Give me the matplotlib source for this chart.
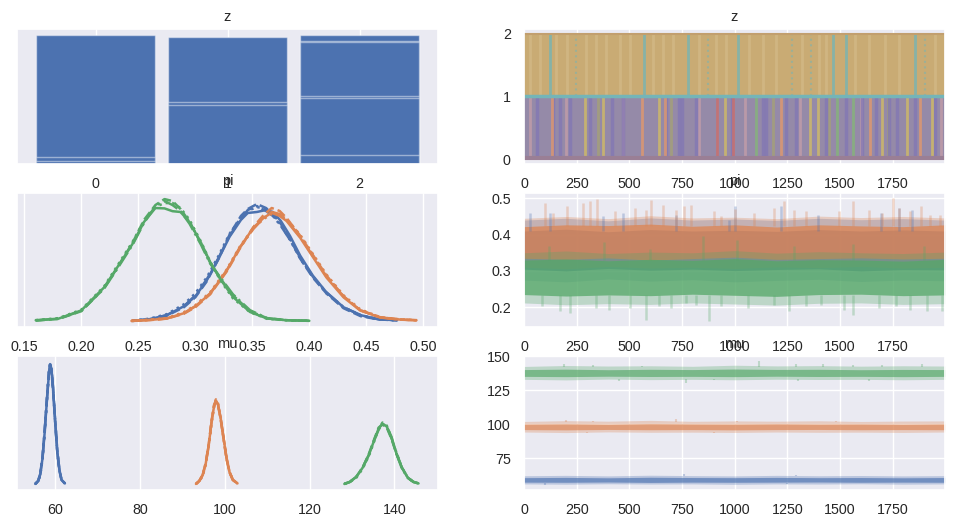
import matplotlib.pyplot as plt
import seaborn as sns

sns.set_theme(style="darkgrid")
plt.rcParams['font.family'] = ['Liberation Sans', 'DejaVu Sans']
plt.rcParams['xtick.labelsize'] = 10.3
plt.rcParams['ytick.labelsize'] = 10.3
plt.rcParams['axes.titlesize'] = 10.5

colors = ["#4C72B0", "#DD8452", "#55A868"]
chain_styles = ["-", "--", ":", "-."]

# ---- z : discrete posterior (bar heights, overlapping per variable) ----
z_cats = [0, 1, 2]
z_bar_heights = [[1.0, 0.055, 0.02],
                 [0.99, 0.485, 0.46],
                 [1.0, 0.96, 0.945, 0.53, 0.51, 0.07]]

# ---- z : trace stripes (draw index) ----
z_upper_teal = [123, 568, 777, 1014, 1466, 1530, 1857]
z_upper_teal_faint = [246, 872, 1274, 1361, 1905]
z_upper_light = [28, 76, 154, 202, 296, 344, 391, 454, 501, 612, 659, 706, 833, 912, 959,
                 1069, 1133, 1196, 1322, 1401, 1432, 1574, 1637, 1716, 1779, 1952]
z_lower_orange = [134, 560, 671, 1220, 1643, 1880]
z_lower_yellow = [290, 377, 639, 955, 1360, 1395, 1700, 1817, 1935]
z_lower_red = [915, 994]
z_lower_green = [1101, 1485, 1564]
z_lower_purple = [60, 139, 170, 218, 312, 420, 470, 675, 738, 750, 817, 990, 1133, 1150,
                  1243, 1290, 1432, 1527, 1605, 1669, 1731, 1770, 1857, 1952]
z_lower_pink = [30, 200, 470, 830, 1050, 1310, 1600, 1980]
z_lower_olive = [350, 700, 1180, 1450, 1730]

# ---- pi : kde per chain (4 chains per component) ----
pi_x = [
    [0.245, 0.26, 0.275, 0.29, 0.30, 0.31, 0.32, 0.33, 0.34, 0.346, 0.354,
     0.362, 0.368, 0.375, 0.383, 0.392, 0.403, 0.415, 0.43, 0.445, 0.46, 0.477],
    [0.244, 0.26, 0.275, 0.29, 0.30, 0.313, 0.3275, 0.339, 0.351, 0.36, 0.367,
     0.374, 0.38, 0.392, 0.4035, 0.415, 0.43, 0.4445, 0.462, 0.4795, 0.494],
    [0.16, 0.18, 0.20, 0.22, 0.23, 0.245, 0.255, 0.265, 0.273, 0.28, 0.287,
     0.295, 0.305, 0.313, 0.322, 0.333, 0.348, 0.363, 0.38, 0.40],
]
pi_kde = [
    [[0.3, 2, 6, 15, 25, 41, 62, 85, 102, 109, 110, 112, 110, 101, 86, 66, 46, 29, 14, 6, 2, 0.8],
     [0.2, 1.8, 5.5, 14, 24, 40, 62, 87, 106, 113, 118, 114, 108, 98, 83, 63, 44, 28, 13, 5, 1.8, 0.7],
     [0.5, 2.5, 7, 17, 28, 44, 65, 88, 104, 111, 115, 113, 107, 97, 82, 63, 45, 28, 14, 6, 2, 0.8],
     [0.3, 2, 6, 15, 26, 42, 63, 86, 103, 112, 116, 111, 106, 96, 82, 64, 45, 29, 14, 6, 2, 0.8]],
    [[0.2, 1.2, 2.6, 8, 15, 27.6, 50.9, 74.2, 94.2, 104.2, 109.2, 106, 101, 84, 64, 44, 24, 10.9, 3.6, 1.6, 0.9],
     [0.2, 1.0, 2.5, 7.5, 14, 27, 50, 73, 95, 107, 114, 111, 104, 86, 66, 46, 25, 11, 4, 1.5, 0.8],
     [0.3, 1.5, 3, 9, 16, 29, 52, 75, 94, 103, 108, 107, 103, 87, 67, 47, 26, 12, 4, 1.8, 1],
     [0.2, 1.2, 2.7, 8, 15, 28, 51, 74, 93, 104, 110, 108, 102, 85, 65, 45, 25, 11, 3.8, 1.6, 0.9]],
    [[0.9, 2.5, 10.8, 34, 51.5, 78, 100, 114, 113.6, 110.8, 110, 99.7, 79, 59.6, 42.2, 24.4, 9.2, 2.6, 0.9, 0.3],
     [0.6, 2.2, 10, 33, 51, 79, 102, 117, 123, 121, 113, 100, 78, 59, 43, 26, 10, 3, 0.9, 0.3],
     [1.0, 3.0, 11.5, 35, 53, 80, 101, 115, 119, 119, 114, 102, 80, 60, 41, 23, 9, 2.3, 0.8, 0.3],
     [0.7, 2.4, 10.3, 33, 50, 77, 99, 116, 121, 117, 111, 98, 77, 58, 44, 27, 11, 3, 1, 0.3]],
]

# ---- mu : kde per chain ----
mu_x = [
    [55.3, 56.0, 56.5, 57.0, 57.5, 58.0, 58.5, 58.8, 59.1, 59.5, 60.0, 60.5, 61.0, 61.5, 62.3],
    [93.2, 94.0, 94.8, 95.5, 96.2, 96.9, 97.5, 97.9, 98.4, 99.0, 99.7, 100.4, 101.1, 101.9, 103.0],
    [128.2, 129.5, 131, 132.5, 134, 135.3, 136.3, 137.2, 138.2, 139.3, 140.5, 141.8, 143.2, 144.5, 145.7],
]
mu_kde = [
    [[0, 3, 10, 25, 50, 80, 108, 118, 115, 95, 62, 32, 14, 4, 0.5],
     [0, 3, 11, 26, 52, 82, 110, 117, 113, 93, 61, 31, 13, 4, 0.5],
     [0, 2.5, 9, 24, 49, 79, 111, 121, 114, 94, 63, 33, 14, 4, 0.5],
     [0, 3, 10, 25, 51, 81, 109, 119, 116, 96, 62, 32, 14, 4, 0.5]],
    [[0, 3, 9, 20, 38, 62, 78, 83, 79, 66, 46, 26, 12, 4, 0.5],
     [0, 3, 9, 21, 39, 63, 79, 82, 78, 65, 45, 25, 12, 4, 0.5],
     [0, 2.5, 8, 19, 37, 61, 78, 84, 80, 67, 47, 27, 12, 4, 0.5],
     [0, 3, 9, 20, 38, 62, 77, 82, 79, 66, 46, 26, 12, 4, 0.5]],
    [[0, 2, 7, 16, 29, 44, 55, 60, 57, 46, 30, 16, 6, 2, 0.5],
     [0, 2, 7, 16, 30, 45, 56, 59, 56, 45, 30, 16, 6, 2, 0.5],
     [0, 2, 6, 15, 28, 43, 55, 61, 58, 46, 31, 16, 6, 2, 0.5],
     [0, 2, 7, 16, 29, 44, 54, 59, 57, 47, 30, 15, 6, 2, 0.5]],
]

# ---- traces: envelopes read every 200 draws ----
knots = [0, 200, 400, 600, 800, 1000, 1200, 1400, 1600, 1800, 2000]

pi_outer_lo = [[0.275, 0.27, 0.278, 0.272, 0.276, 0.27, 0.274, 0.277, 0.271, 0.275, 0.273],
               [0.31, 0.306, 0.312, 0.308, 0.31, 0.307, 0.311, 0.309, 0.312, 0.308, 0.31],
               [0.212, 0.207, 0.21, 0.208, 0.212, 0.209, 0.206, 0.211, 0.212, 0.208, 0.21]]
pi_outer_hi = [[0.44, 0.445, 0.438, 0.446, 0.44, 0.443, 0.439, 0.445, 0.441, 0.444, 0.44],
               [0.445, 0.45, 0.444, 0.452, 0.446, 0.448, 0.444, 0.451, 0.447, 0.45, 0.446],
               [0.35, 0.355, 0.348, 0.352, 0.35, 0.356, 0.349, 0.353, 0.35, 0.348, 0.352]]
pi_core_lo = [[0.305, 0.3, 0.307, 0.302, 0.305, 0.301, 0.304, 0.306, 0.3, 0.304, 0.303],
              [0.335, 0.332, 0.336, 0.33, 0.334, 0.338, 0.332, 0.334, 0.336, 0.333, 0.335],
              [0.235, 0.231, 0.234, 0.232, 0.236, 0.233, 0.23, 0.235, 0.236, 0.232, 0.234]]
pi_core_hi = [[0.41, 0.415, 0.408, 0.414, 0.41, 0.412, 0.409, 0.414, 0.41, 0.413, 0.41],
              [0.422, 0.427, 0.425, 0.429, 0.423, 0.427, 0.421, 0.427, 0.424, 0.422, 0.427],
              [0.33, 0.333, 0.328, 0.332, 0.329, 0.334, 0.328, 0.331, 0.33, 0.327, 0.332]]
pi_spike_up_base = [0.41, 0.425, 0.33]
pi_spike_down_base = [0.305, 0.334, 0.234]

pi_up_draw = [[28, 123, 375, 470, 722, 975, 1000, 1220, 1394, 1693, 1780, 1843],
              [99, 139, 202, 281, 312, 347, 430, 525, 580, 604, 659, 722, 762, 793, 904, 935,
               1000, 1090, 1189, 1233, 1283, 1339, 1496, 1560, 1638, 1701, 1753, 1780, 1835,
               1883, 1930, 1977],
              [120, 380, 600, 850, 1010, 1280, 1560, 1900]]
pi_up_val = [[0.46, 0.46, 0.45, 0.46, 0.455, 0.44, 0.48, 0.478, 0.455, 0.46, 0.473, 0.469],
             [0.487, 0.46, 0.478, 0.487, 0.492, 0.498, 0.464, 0.473, 0.469, 0.496, 0.482, 0.469,
              0.478, 0.482, 0.464, 0.45, 0.47, 0.46, 0.473, 0.492, 0.469, 0.464, 0.464, 0.492,
              0.469, 0.46, 0.501, 0.473, 0.464, 0.478, 0.455, 0.455],
             [0.37, 0.38, 0.36, 0.395, 0.385, 0.37, 0.375, 0.37]]
pi_down_draw = [[], [],
                [84, 170, 217, 343, 406, 501, 580, 643, 698, 769, 816, 879, 934, 1063, 1189,
                 1260, 1339, 1410, 1520, 1560, 1686, 1765, 1835, 1914, 1985]]
pi_down_val = [[], [],
               [0.2025, 0.189, 0.184, 0.198, 0.193, 0.198, 0.166, 0.2025, 0.198, 0.212, 0.207,
                0.161, 0.2025, 0.198, 0.207, 0.189, 0.2025, 0.207, 0.193, 0.179, 0.198, 0.2025,
                0.193, 0.189, 0.189]]

mu_outer_lo = [[56.0, 55.8, 56.1, 55.9, 56.0, 55.7, 56.0, 55.9, 56.1, 55.8, 56.0],
               [94.2, 93.8, 94.3, 94.0, 94.1, 93.9, 94.2, 94.0, 94.1, 93.9, 94.2],
               [133.0, 132.6, 133.2, 132.8, 133.0, 132.7, 133.1, 132.9, 133.0, 132.7, 133.0]]
mu_outer_hi = [[62.0, 62.3, 61.9, 62.4, 62.1, 61.9, 62.3, 62.0, 62.2, 61.9, 62.1],
               [102.0, 102.6, 102.2, 102.8, 102.1, 102.4, 102.2, 102.5, 102.0, 102.3, 102.4],
               [142.5, 143.2, 142.8, 143.0, 142.6, 143.4, 142.9, 143.1, 142.7, 143.0, 142.8]]
mu_core_lo = [[57.3, 57.2, 57.4, 57.1, 57.3, 57.2, 57.3, 57.4, 57.2, 57.3, 57.2],
              [96.0, 95.8, 96.1, 95.9, 96.0, 95.8, 96.0, 96.1, 95.9, 96.0, 95.9],
              [135.2, 135.0, 135.3, 135.1, 135.2, 135.0, 135.3, 135.1, 135.2, 135.0, 135.2]]
mu_core_hi = [[60.6, 60.8, 60.5, 60.9, 60.7, 60.6, 60.8, 60.6, 60.7, 60.5, 60.7],
              [100.0, 100.2, 99.9, 100.3, 100.1, 100.0, 100.2, 100.0, 100.1, 99.9, 100.1],
              [140.2, 140.5, 140.1, 140.4, 140.2, 140.6, 140.3, 140.4, 140.1, 140.3, 140.2]]
mu_spike_up_base = [61.5, 101.8, 142.3]
mu_spike_down_base = [56.5, 94.5, 133.5]
mu_up_draw = [[760, 1290], [200, 330, 720, 1010, 1480],
              [190, 330, 560, 1116, 1290, 1420, 1560, 1700, 1890]]
mu_up_val = [[63.0, 62.5], [103.0, 102.5, 103.5, 102.5, 102.5],
             [144.0, 143.5, 143.0, 146.5, 144.5, 144.0, 143.5, 143.8, 144.0]]
mu_down_draw = [[100, 1250], [300, 600, 900, 1250], [450, 769, 900, 1300, 1640]]
mu_down_val = [[55.5, 55.8], [93.5, 94.0, 93.8, 94.0], [132.0, 130.6, 132.5, 132.0, 131.5]]

draw_ticks = [0, 250, 500, 750, 1000, 1250, 1500, 1750]
n_draws = 2000

fig = plt.figure(figsize=(9.56, 5.26), dpi=100)
L, R, W = 0.0178, 0.5481, 0.4404
rows = [(0.6882, 0.2567), (0.3783, 0.2548), (0.0684, 0.2548)]
ax_zh = fig.add_axes([L, rows[0][0], W, rows[0][1]])
ax_zt = fig.add_axes([R, rows[0][0], W, rows[0][1]])
ax_pk = fig.add_axes([L, rows[1][0], W, rows[1][1]])
ax_pt = fig.add_axes([R, rows[1][0], W, rows[1][1]])
ax_mk = fig.add_axes([L, rows[2][0], W, rows[2][1]])
ax_mt = fig.add_axes([R, rows[2][0], W, rows[2][1]])

# z histogram
for cat, heights in zip(z_cats, z_bar_heights):
    for h in heights:
        ax_zh.bar(cat, h, width=0.9, color=colors[0],
                  edgecolor=(1, 1, 1, 0.45), linewidth=1)
ax_zh.set_xticks(z_cats)
ax_zh.set_yticks([])
ax_zh.set_title("z")

# z trace
ax_zt.fill_between([0, n_draws - 1], 1, 2, color="#c9ab74", lw=0)
ax_zt.fill_between([0, n_draws - 1], 0, 1, color="#958aa8", lw=0)
ax_zt.vlines(z_upper_light, 1, 2, color="#d6bd8c", lw=2, alpha=0.6)
ax_zt.vlines(z_upper_teal, 1, 2, color="#7fb3ad", lw=2, alpha=0.9)
ax_zt.vlines(z_upper_teal_faint, 1, 2, color="#7fb3ad", lw=1.5, alpha=0.6, linestyles=":")
ax_zt.vlines(z_lower_pink, 0, 1, color="#c9a0a8", lw=2, alpha=0.7)
ax_zt.vlines(z_lower_olive, 0, 1, color="#a7a470", lw=2, alpha=0.7)
ax_zt.vlines(z_lower_purple, 0, 1, color="#8075b5", lw=2.5, alpha=0.7)
ax_zt.vlines(z_lower_orange, 0, 1, color="#dd9870", lw=2, alpha=0.85)
ax_zt.vlines(z_lower_yellow, 0, 1, color="#cdb86a", lw=2, alpha=0.85)
ax_zt.vlines(z_lower_red, 0, 1, color="#c9706e", lw=2, alpha=0.85)
ax_zt.vlines(z_lower_green, 0, 1, color="#86b27c", lw=2, alpha=0.85)
ax_zt.plot([0, n_draws - 1], [1, 1], color="#74b5b8", lw=2.5)
ax_zt.plot([0, n_draws - 1], [0.02, 0.02], color="#9a7f95", lw=3)
ax_zt.plot([0, n_draws - 1], [2, 2], color="#c29f6e", lw=1.5)
ax_zt.set_xlim(0, n_draws - 1)
ax_zt.set_ylim(-0.08, 2.08)
ax_zt.set_yticks([0, 1, 2])
ax_zt.set_xticks(draw_ticks)
ax_zt.set_title("z")

# pi kde
for k in range(3):
    for c in range(4):
        ax_pk.plot(pi_x[k], pi_kde[k][c], color=colors[k], ls=chain_styles[c], lw=1.8)
ax_pk.set_xlim(0.1436, 0.5129)
ax_pk.set_xticks([0.15, 0.20, 0.25, 0.30, 0.35, 0.40, 0.45, 0.50])
ax_pk.set_yticks([])
ax_pk.set_title("pi")

# pi trace
for k in range(3):
    ax_pt.fill_between(knots, pi_outer_lo[k], pi_outer_hi[k], color=colors[k], alpha=0.3, lw=0)
    ax_pt.fill_between(knots, pi_core_lo[k], pi_core_hi[k], color=colors[k], alpha=0.75, lw=0)
    ax_pt.vlines(pi_up_draw[k], pi_spike_up_base[k], pi_up_val[k], color=colors[k], lw=1.8, alpha=0.3)
    ax_pt.vlines(pi_down_draw[k], pi_spike_down_base[k], pi_down_val[k], color=colors[k], lw=1.8, alpha=0.3)
ax_pt.set_xlim(0, n_draws - 1)
ax_pt.set_ylim(0.1457, 0.5146)
ax_pt.set_yticks([0.2, 0.3, 0.4, 0.5])
ax_pt.set_xticks(draw_ticks)
ax_pt.set_title("pi")

# mu kde
for k in range(3):
    for c in range(4):
        ax_mk.plot(mu_x[k], mu_kde[k][c], color=colors[k], ls=chain_styles[c], lw=1.8)
ax_mk.set_xlim(51, 150.3)
ax_mk.set_xticks([60, 80, 100, 120, 140])
ax_mk.set_yticks([])
ax_mk.set_title("mu")

# mu trace
for k in range(3):
    ax_mt.fill_between(knots, mu_outer_lo[k], mu_outer_hi[k], color=colors[k], alpha=0.3, lw=0)
    ax_mt.fill_between(knots, mu_core_lo[k], mu_core_hi[k], color=colors[k], alpha=0.65, lw=0)
    ax_mt.vlines(mu_up_draw[k], mu_spike_up_base[k], mu_up_val[k], color=colors[k], lw=1.5, alpha=0.3)
    ax_mt.vlines(mu_down_draw[k], mu_spike_down_base[k], mu_down_val[k], color=colors[k], lw=1.5, alpha=0.3)
ax_mt.set_xlim(0, n_draws - 1)
ax_mt.set_ylim(51.5, 150.2)
ax_mt.set_yticks([75, 100, 125, 150])
ax_mt.set_xticks(draw_ticks)
ax_mt.set_title("mu")

fig.savefig("out.png", dpi=100)
